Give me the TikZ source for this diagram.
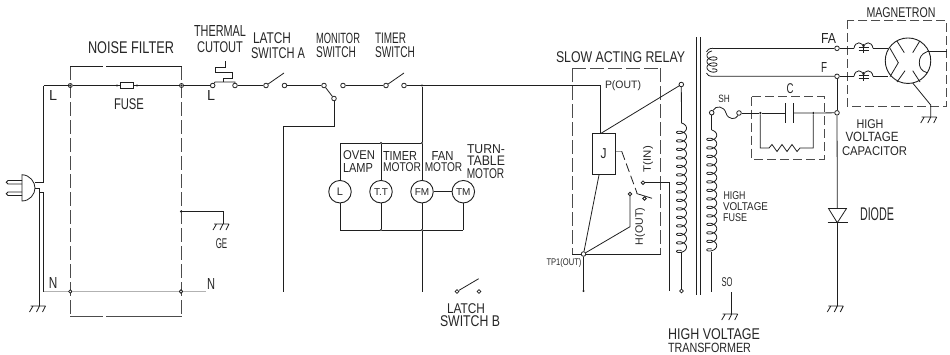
\documentclass[tikz,border=0pt]{standalone}
\usepackage{fontspec}
\usepackage{graphicx}
\setmainfont{Liberation Sans}
\tikzset{
  x=1pt,y=-1pt,
  wire/.style={draw=black!88,line width=0.95pt,line join=miter},
  thinwire/.style={draw=black!88,line width=0.8pt},
  faint/.style={draw=black!30,line width=0.8pt},
  term/.style={circle,draw=black!88,fill=white,line width=0.8pt,inner sep=0pt,minimum size=4.6pt},
  jdot/.style={circle,fill=black!88,inner sep=0pt,minimum size=2.4pt},
  lamp/.style={circle,draw=black!88,fill=white,line width=0.9pt,inner sep=0pt,minimum size=22.5pt},
  dashbox/.style={draw=black!70,line width=1pt,dash pattern=on 14pt off 4pt},
  smalldash/.style={draw=black!70,line width=1pt,dash pattern=on 9pt off 4pt},
  lab/.style={inner sep=0pt,text=black!85},
  relaybox/.style={draw=black!88,line width=0.95pt,fill=white},
}
\newcommand{\lab}[6]{\node[lab] (#1) at (#2,#3) {\resizebox*{#4pt}{#5pt}{#6}};}
\newcommand{\rlab}[6]{\node[lab,rotate=90] (#1) at (#2,#3) {\resizebox*{#4pt}{#5pt}{#6}};}
\newcommand{\gnd}[2]{\draw[thinwire] (#1-9,#2) -- (#1+6,#2)
  (#1-6.5,#2) -- (#1-10,#2+6) (#1,#2) -- (#1-3,#2+6) (#1+6,#2) -- (#1+3,#2+6);}
\newcommand{\vcoil}[5]{\draw[thinwire,domain=0:360*#4,samples=#5,variable=\t,smooth]
  plot ({#1+5*sin(\t)},{#2+(\t/360)*#3-3*cos(\t)});}
\begin{document}
\begin{tikzpicture}
\useasboundingbox (0,0) rectangle (950,354);

% ---------- plug
\draw[thinwire] (22,174.7) .. controls (30,175) and (35,182) .. (35,188)
  .. controls (35,194) and (30,201) .. (22,201) -- cycle;
\draw[thinwire] (22,180.5) -- (8,180.5) .. controls (5.7,180.5) and (5.7,184) .. (8,184) -- (22,184);
\draw[thinwire] (22,192) -- (8,192) .. controls (5.7,192) and (5.7,195.5) .. (8,195.5) -- (22,195.5);
\coordinate (plugL) at (35,182.5);
\coordinate (plugN) at (35,188.7);
\coordinate (lc) at (43.5,85.5);
\coordinate (nc) at (43.5,291.5);
\draw[wire] (plugL) -- (43.5,182.5) -- (lc);
\draw[thinwire] (plugN) -- (39.5,188.7) -- (39.5,306);
\draw[thinwire] (39.5,192.5) -- (43.5,192.5) -- (nc);
\gnd{39.5}{306}

% ---------- noise filter
\draw[dashbox] (70,66) -- (70,316);
\draw[dashbox] (181.5,66) -- (181.5,316);
\draw[wire] (70,66) -- (103,66) (106,66) -- (182,66);
\draw[wire,draw=black!70] (70,316) -- (103,316) (106,316) -- (182,316);
\node[term,minimum size=4pt] (fl) at (70.3,85.5) {};
\node[term,minimum size=4pt] (fr) at (181.5,85.5) {};
\node[jdot] (fld) at (70.3,85.5) {};
\node[jdot] (frd) at (181.5,85.5) {};
\node[jdot] (fa) at (117,85.5) {};
\node[jdot] (fb) at (137,85.5) {};
\node[draw=black!88,line width=0.8pt,fill=white,inner sep=0pt,minimum width=13pt,minimum height=6.5pt] (fuse) at (126.5,85.5) {};
\draw[wire] (lc) -- (fl);
\draw[wire] (fl) -- (fa) -- (fuse) -- (fb) -- (fr);
\node[term,minimum size=3.4pt] (nl) at (70.3,291.5) {};
\node[term,minimum size=3.4pt] (nr) at (181,291.5) {};
\coordinate (nend) at (206,291.5);
\draw[faint] (nc) -- (nl) -- (nr) -- (nend);
\node[jdot] (ge0) at (181,211.5) {};
\draw[thinwire] (ge0) -- (223,211.5) -- (223,224);
\gnd{223}{224}

% ---------- thermal cutout and switches
\node[term] (tc1) at (212.7,85.5) {};
\node[term] (tc2) at (235,85.5) {};
\node[term] (la1) at (266,85.5) {};
\node[term] (la2) at (284.5,85.5) {};
\node[term] (mo1) at (324,85.5) {};
\node[term] (mo2) at (343,85.5) {};
\node[term] (mo3) at (334,98.5) {};
\node[term] (ti1) at (386,85.5) {};
\node[term] (ti2) at (404,85.5) {};
\node[jdot] (j85) at (422,85.5) {};
\draw[wire] (fr) -- (tc1);
\draw[thinwire] (tc1) -- (215,82) -- (235,82) -- (tc2);
\draw[thinwire] (223,82) -- (223,78) -- (232,78) -- (232,72) -- (215,72) -- (215,67) -- (225,67) -- (225,61);
\draw[thinwire] (tc2) -- (la1);
\draw[thinwire] (la1) -- (284,73);
\draw[thinwire] (la2) -- (mo1);
\draw[thinwire] (mo1) -- (mo3);
\draw[thinwire] (mo2) -- (ti1);
\draw[thinwire] (ti1) -- (404,73);
\draw[thinwire] (ti2) -- (j85);
\coordinate (pc) at (600.7,85.5);
\draw[wire] (j85) -- (pc);
\draw[wire] (mo3) -- (334,126) -- (283,126) -- (283,291.5);

% ---------- motors
\node[lamp] (mL) at (340,191.7) {};
\node[lamp] (mT) at (381,191.7) {};
\node[lamp] (mF) at (422,191.7) {};
\node[lamp] (mM) at (463.3,191.7) {};
\node[jdot] (t2) at (381,143) {};
\node[jdot] (t3) at (422,143) {};
\node[jdot] (b2) at (381,230) {};
\node[jdot] (b3) at (422,230) {};
\coordinate (t1) at (340,143);
\coordinate (b1) at (340,230);
\coordinate (b4) at (463.3,230);
\coordinate (mbot) at (422,291.5);
\draw[thinwire] (j85) -- (t3);
\draw[thinwire] (t1) -- (t2) -- (t3);
\draw[thinwire] (t1) -- (mL);
\draw[thinwire] (t2) -- (mT);
\draw[thinwire] (t3) -- (mF);
\draw[thinwire] (mF) -- (mM);
\draw[thinwire] (mL) -- (b1);
\draw[thinwire] (mT) -- (b2);
\draw[thinwire] (mF) -- (b3);
\draw[thinwire] (mM) -- (b4);
\draw[thinwire] (b1) -- (b2) -- (b3) -- (b4);
\draw[thinwire] (b3) -- (mbot);
\node[term,minimum size=3.8pt] (lb1) at (457,291.5) {};
\node[term,minimum size=3.8pt] (lb2) at (479,291.5) {};
\draw[thinwire] (lb1) -- (478.7,278.7);

% ---------- relay
\draw[dashbox] (572,68) -- (572,254);
\draw[dashbox] (660.7,68) -- (660.7,254);
\draw[dashbox] (572,68) -- (660.7,68);
\draw[wire] (572,254) -- (660.7,254);
\node[relaybox,minimum width=23.5pt,minimum height=41.5pt,inner sep=0pt] (J) at (603.8,154.2) {};
\coordinate (jtop) at (600.7,133.5);
\coordinate (jbot) at (599,175);
\node[term] (pt) at (681.3,84.5) {};
\node[term] (tp1) at (583.5,254) {};
\node[term,minimum size=3.6pt] (tin) at (643,182.7) {};
\node[term,minimum size=3.6pt] (hk) at (630,194) {};
\node[term,minimum size=3.4pt] (sw) at (644.5,198.5) {};
\node[jdot] (tpe) at (583.5,291) {};
\draw[wire] (pc) -- (jtop);
\draw[thinwire] (jtop) -- (pt);
\draw[thinwire] (jbot) -- (tp1);
\draw[thinwire] (tp1) -- (630,226.7) -- (hk);
\draw[thinwire] (tp1) -- (tpe);
\draw[thinwire] (tin) -- (669,182.7) -- (669,291);
\draw[draw=black!40,line width=0.8pt] (J.east |- 0,151.3) -- (621.7,151.3);
\draw[thinwire,dash pattern=on 9pt off 4pt] (621.7,151.3) -- (637,193);
\draw[thinwire] (636.5,193.5) -- (652,198.3);

% ---------- transformer
\draw[wire] (696.5,37) -- (696.5,295);
\draw[wire] (700,37) -- (700,295);
\coordinate (pc1) at (681.5,123);
\node[term,minimum size=3.8pt] (pe) at (681.5,291) {};
\draw[thinwire] (pt) -- (pc1);
\vcoil{681.5}{126}{8.5}{15}{420}
\draw[thinwire] (681.5,251.5) -- (pe);
\node[term] (sh1) at (711.7,112.7) {};
\node[term] (sh2) at (739,113) {};
\draw[thinwire] (sh1) -- (711.7,130);
\vcoil{711.7}{133}{8.5}{14}{400}
\coordinate (se) at (711.7,291.7);
\draw[thinwire] (711.7,252) -- (se);
\draw[thinwire] (sh1) .. controls (716,105) and (724,106) .. (726,113) .. controls (728,120) and (736,120) .. (sh2);
\coordinate (sot) at (731.7,292);
\draw[thinwire] (sot) -- (731.7,314);
\gnd{731.7}{314}

% ---------- heater winding
\node[term] (FA) at (837,48.3) {};
\node[term] (Ft) at (837,76.3) {};
\node[term] (cj) at (837,112.8) {};
\draw[thinwire] (FA) -- (713,48.3);
\draw[thinwire] (713,48.3) .. controls (709,48.3) and (707,50) .. (706.5,52);
\draw[thinwire,domain=0:360*3,samples=90,variable=\t,smooth]
  plot ({712-5*sin(\t)},{54+(\t/360)*6-3*cos(\t)});
\draw[thinwire] (706.5,73) .. controls (707,75) and (709,76.3) .. (713,76.3) -- (Ft);
\draw[wire] (Ft) -- (cj);
\coordinate (dtop) at (837.3,208);
\coordinate (dbar) at (837.3,222.7);
\coordinate (dgnd) at (837.3,306);
\draw[thinwire] (cj) -- (dtop);
\draw[thinwire] (828.5,208.5) -- (846.5,208.5) -- (dbar) -- cycle;
\draw[wire] (827.5,222.7) -- (847.5,222.7);
\draw[thinwire] (dbar) -- (dgnd);
\gnd{837.3}{306}

% ---------- capacitor C
\draw[smalldash] (751.7,96.7) rectangle (824,159);
\node[jdot] (c1) at (760.3,113) {};
\node[jdot] (c2) at (813.3,113) {};
\draw[thinwire] (sh2) -- (c1) -- (785,113);
\draw[thinwire] (793.3,113) -- (c2) -- (cj);
\draw[wire] (785,103) -- (785,123);
\draw[wire] (793.3,103) -- (793.3,123);
\draw[thinwire] (c1) -- (760.3,148) -- (769,148) -- (772,144.5) -- (777,151.5) -- (782,144.5) -- (787,151.5) -- (792,144.5) -- (797,151.5) -- (800,148) -- (813.3,148) -- (c2);

% ---------- magnetron
\draw[smalldash] (847,20) rectangle (946.7,106);
\node[circle,draw=black!88,line width=0.9pt,inner sep=0pt,minimum size=45.5pt] (tube) at (908,60.7) {};
\draw[thinwire] (FA) -- (854,48.3) (873,48.3) -- (888,48.3);
\draw[thinwire] (Ft) -- (854,76.3) (873,76.3) -- (888,76.3);
\draw[thinwire] (854,48.3) .. controls (855,41) and (863,41) .. (863.5,48.3) .. controls (864,41) and (872,41) .. (873,48.3);
\draw[thinwire] (854,76.3) .. controls (855,69) and (863,69) .. (863.5,76.3) .. controls (864,69) and (872,69) .. (873,76.3);
\draw[thinwire] (863.5,44) -- (863.5,53) (858.5,47) -- (868.5,47) (858.5,50.5) -- (868.5,50.5);
\draw[thinwire] (863.5,72) -- (863.5,81) (858.5,75) -- (868.5,75) (858.5,78.5) -- (868.5,78.5);
\draw[thinwire] (896.7,40.7) -- (904.3,52.7) (920,40.7) -- (912.7,52.7)
  (897,82) -- (905,70.7) (920,82) -- (912.7,70.7);
\draw[thinwire] (890,48.3) -- (898.3,62.7) -- (890,76.7);
\draw[thinwire] (927,51.7) .. controls (921,54) and (919.3,58) .. (919.3,62.7) .. controls (919.3,67) and (921,71) .. (927,72.7);
\coordinate (outp) at (946.7,51.7);
\draw[thinwire] (927,51.7) -- (outp);
\coordinate (gm) at (930.7,105);
\draw[thinwire] (912.7,83) -- (gm) -- (930.7,117);
\gnd{930.7}{117}

% ---------- labels
\lab{tNF}{131}{47.5}{86}{12}{NOISE FILTER}
\lab{tFU}{129}{104}{30}{11}{FUSE}
\lab{tL1}{53}{95.5}{8}{10}{L}
\lab{tL2}{211}{95.8}{8}{10}{L}
\lab{tN1}{53}{283}{8.5}{11}{N}
\lab{tN2}{211}{283.5}{8}{11}{N}
\lab{tGE}{221.5}{244}{11.5}{10}{GE}
\lab{tTH}{220}{30.5}{52}{11}{THERMAL}
\lab{tCU}{220}{47}{46}{11}{CUTOUT}
\lab{tLA}{272}{38.5}{38}{11}{LATCH}
\lab{tSA}{278}{53}{54}{11}{SWITCH A}
\lab{tMO}{338}{38}{44}{10.5}{MONITOR}
\lab{tMS}{336}{52.5}{40}{11}{SWITCH}
\lab{tTI}{390.5}{38}{31}{10.5}{TIMER}
\lab{tTS}{395}{52.5}{40}{11}{SWITCH}
\lab{tOV}{359}{155.5}{32}{9}{OVEN}
\lab{tLP}{358}{167.5}{30}{9}{LAMP}
\lab{tTM}{400}{155.5}{34}{9}{TIMER}
\lab{tMT}{402}{167.5}{38}{9}{MOTOR}
\lab{tFA}{442.5}{155.5}{22}{9}{FAN}
\lab{tFM}{443.5}{167.5}{37.5}{9}{MOTOR}
\lab{tTU}{486}{149.5}{38}{9}{TURN-}
\lab{tTA}{486}{161}{38}{9.5}{TABLE}
\lab{tTB}{485.5}{173.5}{37.5}{10}{MOTOR}
\node[lab,font=\fontsize{11}{11}\selectfont] (lL) at (mL) {L};
\node[lab,font=\fontsize{10}{10}\selectfont] (lT) at (mT) {T.T};
\node[lab,font=\fontsize{10}{10}\selectfont] (lF) at (mF) {FM};
\node[lab,font=\fontsize{10}{10}\selectfont] (lM) at (mM) {TM};
\lab{tLB}{466}{309}{38}{10}{LATCH}
\lab{tSB}{470}{321.5}{60}{11}{SWITCH B}
\lab{tSL}{620.5}{57}{129}{11}{SLOW ACTING RELAY}
\lab{tPO}{623}{86}{36}{10}{P(OUT)}
\lab{tTP}{564}{262.7}{35}{9}{TP1(OUT)}
\rlab{tTN}{648}{159}{26}{10}{T(IN)}
\rlab{tHK}{640}{226.5}{37}{10}{H(OUT)}
\lab{tJ}{603.5}{153.5}{6}{10}{J}
\lab{tSH}{724}{99}{11.5}{7.5}{SH}
\lab{tC}{790}{89}{7}{10}{C}
\lab{tFA2}{828.5}{38}{15}{10}{FA}
\lab{tF}{824}{67}{6}{10}{F}
\lab{tHV}{734.5}{196}{22}{8}{HIGH}
\lab{tVO}{745.5}{207}{45}{8}{VOLTAGE}
\lab{tFS}{735}{218}{24}{8}{FUSE}
\lab{tSO}{727}{282}{11}{9}{SO}
\lab{tH1}{714}{334}{92}{11}{HIGH VOLTAGE}
\lab{tH2}{709.5}{348}{83}{9.5}{TRANSFORMER}
\lab{tMG}{901}{13}{69}{10}{MAGNETRON}
\lab{tHI}{870}{124}{27}{9}{HIGH}
\lab{tVL}{872}{137}{53}{9.5}{VOLTAGE}
\lab{tCP}{874.5}{151}{65}{9}{CAPACITOR}
\lab{tDI}{877}{214.5}{34}{13}{DIODE}
\end{tikzpicture}
\end{document}
